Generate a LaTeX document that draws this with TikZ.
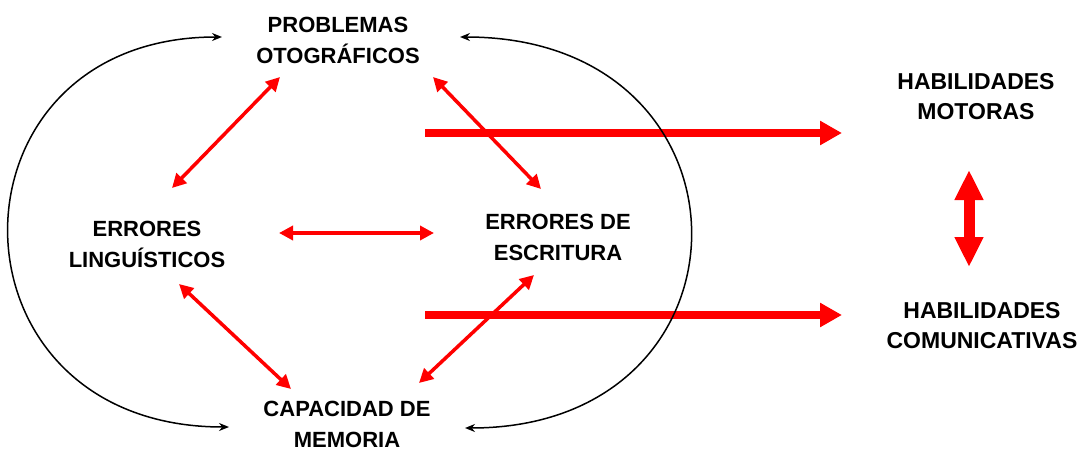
\documentclass[tikz,border=0pt]{standalone}
\usepackage{fontspec}
\setmainfont{Liberation Sans}
\usetikzlibrary{arrows.meta}
\begin{document}
\begin{tikzpicture}[x=1pt,y=-1pt,
  lbl/.style={font=\fontsize{22}{31}\selectfont\bfseries, align=center, inner sep=0pt},
  lblr/.style={font=\fontsize{23}{30}\selectfont\bfseries, align=center, inner sep=0pt},
  redarr/.style={draw=red, line width=3.5pt, {Triangle[length=14pt,width=14pt]}-{Triangle[length=14pt,width=14pt]}},
  bigarr/.style={draw=red, line width=8pt, -{Triangle[length=22pt,width=23pt]}},
  vertarr/.style={draw=red, line width=11pt, {Triangle[length=30pt,width=27pt]}-{Triangle[length=30pt,width=27pt]}},
  loopline/.style={draw=black, line width=1.5pt, {Stealth[length=10pt,width=8pt]}-{Stealth[length=10pt,width=8pt]}}]
\useasboundingbox (0,0) rectangle (1087,452);
\node[lbl] (po) at (338,40) {PROBLEMAS\\OTOGRÁFICOS};
\node[lbl] (el) at (147,244) {ERRORES\\LINGUÍSTICOS};
\node[lbl] (ee) at (558,237) {ERRORES DE\\ESCRITURA};
\node[lbl] (cm) at (347,424) {CAPACIDAD DE\\MEMORIA};
\node[lblr] (hm) at (976,97) {HABILIDADES\\MOTORAS};
\node[lblr] (hc) at (982,326) {HABILIDADES\\COMUNICATIVAS};
% endpoints
\coordinate (a1) at (280,77);  \coordinate (a2) at (172,188);
\coordinate (b1) at (433,77);  \coordinate (b2) at (541,189);
\coordinate (c1) at (279,233); \coordinate (c2) at (434,233);
\coordinate (d1) at (179,284); \coordinate (d2) at (291,389);
\coordinate (e1) at (419,383); \coordinate (e2) at (534,275);
\coordinate (f1) at (425,133); \coordinate (f2) at (842,133);
\coordinate (g1) at (425,315); \coordinate (g2) at (842,315);
\coordinate (h1) at (969,170); \coordinate (h2) at (969,267);
\coordinate (l1) at (222,37);  \coordinate (l2) at (229,427);
\coordinate (r1) at (460,37);  \coordinate (r2) at (465,428);
\draw[redarr] (a1) -- (a2);
\draw[redarr] (b1) -- (b2);
\draw[redarr] (c1) -- (c2);
\draw[redarr] (d1) -- (d2);
\draw[redarr] (e1) -- (e2);
\draw[bigarr] (f1) -- (f2);
\draw[bigarr] (g1) -- (g2);
\draw[vertarr] (h1) -- (h2);
\draw[loopline] (l2) .. controls (-63,427) and (-63,37) .. (l1);
\draw[loopline] (r1) .. controls (766,37) and (766,428) .. (r2);
\end{tikzpicture}
\end{document}
